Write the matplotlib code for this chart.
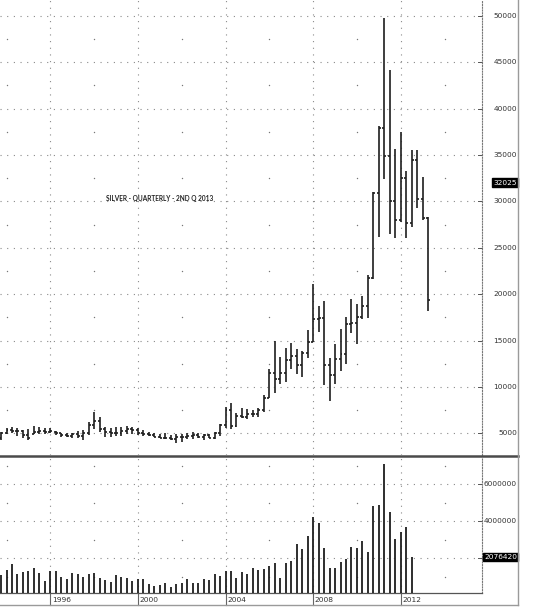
import numpy as np
import matplotlib.pyplot as plt
from matplotlib.collections import LineCollection
from matplotlib.lines import Line2D
from matplotlib.transforms import blended_transform_factory

# quarterly bars, 4Q 1993 .. 2Q 2013
opens = [4500, 5050, 5350, 5300, 5250, 4800, 4950, 5200, 5300, 5150,
         5200, 5050, 4800, 4750, 4900, 4700, 5100, 5950, 6300, 5500,
         5150, 5000, 5100, 5250, 5450, 5400, 5000, 4950, 4850, 4650,
         4550, 4500, 4450, 4650, 4600, 4700, 4850, 4600, 4800, 4550,
         5100, 5950, 7550, 5850, 6900, 6800, 7150, 7050, 7500, 8850,
         11500, 10900, 11500, 12900, 13300, 12400, 13700, 14850, 17300, 17450,
         12400, 11300, 13000, 13600, 16800, 16900, 17550, 18700, 21800, 30900,
         37900, 34900, 30100, 28000, 32500, 27650, 34500, 30250, 28250]
highs = [5130, 5560, 5670, 5560, 5420, 5450, 5850, 5660, 5560, 5620,
         5270, 5090, 5090, 5010, 5270, 5420, 6210, 7290, 6810, 5730,
         5620, 5730, 5660, 5800, 5730, 5560, 5340, 5190, 5020, 4910,
         5020, 4840, 4910, 4910, 5020, 5130, 5020, 4990, 4910, 5190,
         6050, 7900, 8300, 7180, 7720, 7600, 7540, 7720, 9150, 11900,
         15000, 13200, 14180, 14720, 14100, 13900, 16200, 21100, 18750, 19300,
         13100, 14600, 16250, 17550, 19450, 18950, 19850, 22050, 31000, 38100,
         49800, 44200, 35650, 37450, 33300, 35500, 35550, 32600, 28350]
lows = [4300, 4900, 5020, 4770, 4550, 4340, 4950, 4910, 4910, 5020,
        4840, 4660, 4620, 4550, 4480, 4340, 4840, 5500, 5130, 4660,
        4590, 4730, 4730, 4910, 4910, 4840, 4760, 4700, 4590, 4480,
        4410, 4300, 4010, 4100, 4410, 4410, 4480, 4300, 4480, 4410,
        4700, 5600, 5450, 5730, 6640, 6520, 6750, 6750, 7350, 8850,
        9400, 10350, 10600, 12000, 11400, 11100, 13100, 14850, 15950, 10250,
        8450, 10350, 11700, 12500, 15850, 14650, 17300, 17400, 21700, 26200,
        32450, 26550, 26100, 27800, 26050, 27300, 29300, 28000, 18200]
closes = [5050, 5350, 5300, 5250, 4800, 4500, 5200, 5300, 5150, 5250,
          5050, 4800, 4750, 4900, 4700, 5100, 5950, 6300, 5500, 5150,
          5000, 5100, 5250, 5450, 5400, 5000, 4950, 4850, 4650, 4550,
          4500, 4450, 4650, 4600, 4700, 4850, 4600, 4800, 4550, 5100,
          5950, 7550, 5850, 6900, 6800, 7150, 7050, 7500, 8850, 11500,
          10900, 11500, 12900, 13300, 12400, 13700, 14850, 17300, 17450, 12400,
          11300, 13000, 13600, 16800, 16900, 17550, 18700, 21800, 30900, 37900,
          34900, 30100, 28000, 32500, 27650, 34500, 30250, 28250, 19400]

# quarterly volume, 4Q 1993 .. 3Q 2012
volume = [1100000, 1380000, 1700000, 1150000, 1240000, 1310000, 1470000, 1180000, 780000, 1290000,
          1330000, 1000000, 890000, 1200000, 1170000, 1010000, 1130000, 1200000, 960000, 840000,
          730000, 1100000, 1000000, 940000, 780000, 890000, 870000, 610000, 480000, 550000,
          680000, 460000, 590000, 640000, 890000, 690000, 680000, 870000, 850000, 1150000,
          1050000, 1330000, 1310000, 960000, 1260000, 1170000, 1470000, 1380000, 1430000, 1590000,
          1770000, 940000, 1750000, 1860000, 2760000, 2490000, 3210000, 4250000, 3930000, 2550000,
          1470000, 1450000, 1810000, 1940000, 2620000, 2550000, 2960000, 2350000, 4830000, 4870000,
          7100000, 4510000, 3040000, 3410000, 3670000, 2076420]

price_ticks = [5000, 10000, 15000, 20000, 25000, 30000, 35000, 40000, 45000, 50000]
vol_ticks = [2000000, 4000000, 6000000]
year_ticks = [1996, 2000, 2004, 2008, 2012]
mid_years = [1994, 1998, 2002, 2006, 2010, 2014]
price_mid = [7500, 12500, 17500, 22500, 27500, 32500, 37500, 42500, 47500]
vol_mid = [1000000, 3000000, 5000000, 7000000]
last_price = 32025
last_volume = 2076420
title = 'SILVER - QUARTERLY - 2ND Q 2013'

W, H = 546, 612
fig = plt.figure(figsize=(W / 100, H / 100), dpi=100)
fig.patch.set_facecolor('white')

ax1 = fig.add_axes([0, 1 - 455 / H, 482 / W, 455 / H])
ax2 = fig.add_axes([0, 1 - 593 / H, 482 / W, (593 - 457) / H])

qtr = 1993.75 + 0.25 * np.arange(len(highs))
qtr_v = 1993.75 + 0.25 * np.arange(len(volume))

bar_col = '#1e1e1e'
grid_kw = dict(color='#8a8a8a', lw=0.8, linestyle=(0, (1, 5)))
tick = 0.09

# price bars
segs = []
for x, o, h, l, c in zip(qtr, opens, highs, lows, closes):
    segs.append([(x, l), (x, h)])
    segs.append([(x - tick, o), (x, o)])
    segs.append([(x, c), (x + tick, c)])
ax1.add_collection(LineCollection(segs, colors=bar_col, linewidths=1.2, zorder=3))
ax1.set_xlim(1993.703, 2015.71)
ax1.set_ylim(2683, 51713)

# volume bars
ax2.vlines(qtr_v, 0, volume, colors=bar_col, linewidth=1.3, zorder=3)
ax2.set_xlim(1993.703, 2015.71)
ax2.set_ylim(124000, 7476000)

for ax, hticks, mids in ((ax1, price_ticks, price_mid), (ax2, vol_ticks, vol_mid)):
    for v in hticks:
        ax.axhline(v, **grid_kw, zorder=1)
    for yr in year_ticks:
        ax.axvline(yr, **grid_kw, zorder=1)
    xx, yy = np.meshgrid(mid_years, mids)
    ax.plot(xx.ravel(), yy.ravel(), 'o', ms=1.0, color='#777777', mec='none', zorder=1)
    ax.set_xticks([])
    ax.set_yticks([])
    for side in ('left', 'top', 'bottom'):
        ax.spines[side].set_visible(False)
    ax.spines['right'].set_linestyle((0, (1, 1.5)))
    ax.spines['right'].set_color('#777777')
    ax.spines['right'].set_linewidth(0.8)
    ax.patch.set_alpha(0)

ax2.spines['bottom'].set_visible(True)
ax2.spines['bottom'].set_color('#555555')
ax2.spines['bottom'].set_linewidth(0.9)

# right axis labels
lab_x = 517 / 482
tr1 = blended_transform_factory(ax1.transAxes, ax1.transData)
tr2 = blended_transform_factory(ax2.transAxes, ax2.transData)
for v in price_ticks:
    ax1.text(lab_x, v, str(v), transform=tr1, ha='right', va='center',
             fontsize=5.3, color='#333333', clip_on=False)
    ax1.plot([1 - 4 / 482, 1], [v, v], transform=tr1, color='#555555', lw=0.7, clip_on=False)
for v in vol_ticks:
    ax2.text(lab_x, v, str(v), transform=tr2, ha='right', va='center',
             fontsize=5.3, color='#333333', clip_on=False)
    ax2.plot([1 - 4 / 482, 1], [v, v], transform=tr2, color='#555555', lw=0.7, clip_on=False)

box = dict(boxstyle='square,pad=0.18', fc='black', ec='black')
ax1.text(lab_x, last_price, str(last_price), transform=tr1, ha='right', va='center',
         fontsize=5.3, color='white', bbox=box, clip_on=False, zorder=5)
ax2.text(lab_x, last_volume, str(last_volume), transform=tr2, ha='right', va='center',
         fontsize=5.3, color='white', bbox=box, clip_on=False, zorder=5)

# year labels under the volume panel
trx = blended_transform_factory(ax2.transData, ax2.transAxes)
for yr in year_ticks:
    ax2.plot([yr, yr], [0, -12 / 136], transform=trx, color='#666666', lw=0.8, clip_on=False)
    ax2.text(yr + 0.08, -6.5 / 136, str(yr), transform=trx, ha='left', va='center',
             fontsize=5.4, color='#333333', clip_on=False)

ax1.text(160 / 482, 1 - 199 / 455, title, transform=ax1.transAxes, ha='center', va='center',
         fontsize=4.7, fontweight='bold', family='Lato', color='#222222')

# panel separator and outer frame
fig.add_artist(Line2D([0, 518 / W], [1 - 456 / H, 1 - 456 / H], color='#4a4a4a', lw=1.8))
fig.add_artist(Line2D([518 / W, 518 / W], [1, 1 - 605 / H], color='#9a9a9a', lw=1.0))
fig.add_artist(Line2D([0, 518 / W], [1 - 605 / H, 1 - 605 / H], color='#9a9a9a', lw=1.0))

fig.savefig('out.png', dpi=100, facecolor='white')
